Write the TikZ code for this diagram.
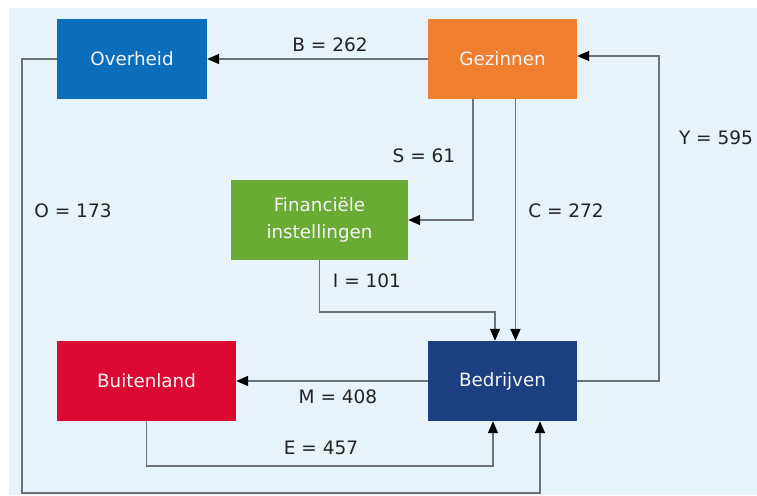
\documentclass[tikz,border=0pt]{standalone}
\usepackage{fontspec}
\setmainfont{DejaVu Sans}
\usetikzlibrary{arrows.meta}
\definecolor{bgblue}{HTML}{E6F3FB}
\definecolor{cov}{HTML}{0A6EBD}
\definecolor{cgez}{HTML}{EF7F2F}
\definecolor{cfin}{HTML}{6AAB35}
\definecolor{cbui}{HTML}{DC0A33}
\definecolor{cbed}{HTML}{1B3F80}
\definecolor{lgray}{HTML}{6E7275}
\definecolor{ltext}{HTML}{222222}
\begin{document}
\begin{tikzpicture}[x=1pt,y=-1pt,
  box/.style={draw=none,minimum height=80pt,inner sep=0pt,text=white!92!gray,
    font=\fontsize{18.3}{27}\selectfont,align=center},
  arr/.style={draw=lgray,line width=1.6pt,-{Triangle[length=12pt,width=10pt,color=black]}},
  lbl/.style={text=ltext,font=\fontsize{18.5}{22}\selectfont}]
\useasboundingbox (0,0) rectangle (757,495);
\fill[bgblue] (9,8) rectangle (757,495);
\node[box,fill=cov,minimum width=150pt] (ov) at (132,59) {Overheid};
\node[box,fill=cgez,minimum width=149pt] (gez) at (502.5,59) {Gezinnen};
\node[box,fill=cfin,minimum width=177pt] (fin) at (319.5,220) {Financiële\\instellingen};
\node[box,fill=cbui,minimum width=179pt] (bui) at (146.5,381) {Buitenland};
\node[box,fill=cbed,minimum width=149pt] (bed) at (502.5,381) {Bedrijven};
\coordinate (o1) at (22,493);
\draw[arr] (gez.west) -- (ov.west -| ov.east);
\draw[arr] (ov.west) -| (o1) -| ([xshift=37.5pt]bed.south);
\draw[arr] ([xshift=-29.5pt]gez.south) |- (fin.east);
\draw[arr] ([xshift=13pt]gez.south) -- ([xshift=13pt]bed.north);
\draw[arr] (fin.south) -- ++(0,52) -| ([xshift=-7.5pt]bed.north);
\draw[arr] (bed.west) -- (bui.east);
\draw[arr] (bui.south) -- ++(0,45) -| ([xshift=-9.5pt]bed.south);
\draw[arr] (bed.east) -- ++(82,0) |- ([yshift=3pt]gez.east);
\node[lbl] (lb) at (330,45) {B = 262};
\node[lbl] (lo) at (73,211) {O = 173};
\node[lbl] (ls) at (424,156) {S = 61};
\node[lbl] (lc) at (566,211) {C = 272};
\node[lbl] (li) at (367,281) {I = 101};
\node[lbl] (lm) at (338,397) {M = 408};
\node[lbl] (le) at (321,448) {E = 457};
\node[lbl] (ly) at (716,138) {Y = 595};
\end{tikzpicture}
\end{document}
